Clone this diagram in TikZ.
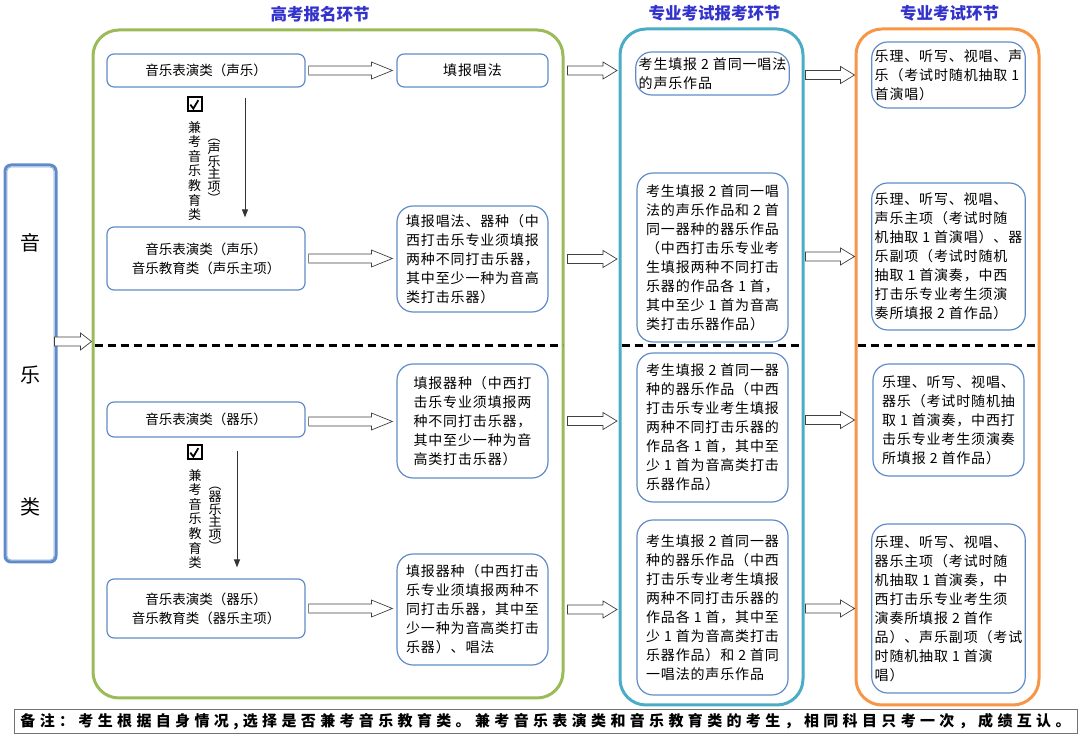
\documentclass[tikz,border=0pt]{standalone}
\usepackage{fontspec}
\setmainfont{Noto Sans CJK SC}
\newfontfamily\boxfont[LetterSpace=6]{Noto Sans CJK SC}
\newfontfamily\remarkfont[LetterSpace=29]{Noto Sans CJK SC}
\usetikzlibrary{arrows.meta,positioning,calc}

\definecolor{stageGreen}{RGB}{155,187,89}
\definecolor{stageTeal}{RGB}{75,172,198}
\definecolor{stageOrange}{RGB}{247,150,70}
\definecolor{boxBlue}{RGB}{95,140,200}
\definecolor{headBlue}{RGB}{51,51,204}

\tikzset{
  stage/.style={draw=#1, line width=3pt, rounded corners=26pt, inner sep=0pt},
  stagehead/.style={font=\bfseries\fontsize{16.5}{18}\selectfont, text=headBlue, inner sep=0pt},
  kind/.style={draw=boxBlue, line width=1.2pt, rounded corners=7pt, minimum width=198pt,
    align=center, font=\fontsize{13.5}{19}\selectfont, inner sep=2pt},
  info/.style={draw=boxBlue, line width=1.2pt, rounded corners=16pt, minimum width=151pt,
    align=left, font=\boxfont\fontsize{14}{19}\selectfont, inner sep=3pt},
  vtext/.style={align=center, font=\fontsize{13}{14.6}\selectfont, inner sep=0pt},
  checkbox/.style={draw, line width=1.8pt, minimum size=13.5pt, inner sep=0pt},
  downarrow/.style={-{Triangle[length=8pt,width=6pt]}, line width=1pt, draw=black!80},
  splitline/.style={line width=2.2pt, dash pattern=on 8pt off 5pt},
  fatarrow/.style={draw=black!75, fill=white, line width=0.7pt,
    to path={let \p1=(\tikztostart), \p2=(\tikztotarget) in
      (\x1,\y1+4.5pt) -- (\x2-#1,\y1+4.5pt) -- (\x2-#1,\y1+8.5pt) -- (\x2,\y1)
      -- (\x2-#1,\y1-8.5pt) -- (\x2-#1,\y1-4.5pt) -- (\x1,\y1-4.5pt) -- cycle}},
  fatarrow/.default=14pt
}

\begin{document}
\begin{tikzpicture}[x=1pt,y=1pt]
\useasboundingbox (0,0) rectangle (1080,744);

% the three stages
\node[stage=stageGreen, minimum width=470pt, minimum height=668pt] (green) at (328,380) {};
\node[stage=stageTeal, minimum width=183pt, minimum height=676pt] (teal) at (711.5,377) {};
\node[stage=stageOrange, minimum width=183pt, minimum height=676pt] (orange) at (947.5,377) {};
\node[stagehead, above=6pt of green.north, xshift=-8pt] {高考报名环节};
\node[stagehead, above=6pt of teal.north, xshift=3pt] {专业考试报考环节};
\node[stagehead, above=6pt of orange.north, xshift=2pt] {专业考试环节};

% music box on the left
\node[draw=boxBlue, line width=3pt, rounded corners=6pt, minimum width=51pt, minimum height=397pt] (music) at (30.5,380.5) {};
\draw[boxBlue!70, line width=0.8pt, rounded corners=4pt]
  ([shift={(3.5pt,3.5pt)}]music.south west) rectangle ([shift={(-3.5pt,-3.5pt)}]music.north east);
\node[align=center, font=\fontsize{20}{132}\selectfont] at ([yshift=-11pt]music.center) {音\\乐\\类};

% 高考报名
\node[kind, minimum height=33pt] (a1) at (206,673.5) {音乐表演类（声乐）};
\node[info, minimum height=33pt, rounded corners=7pt, align=center] (b1) at (472.5,673.5) {填报唱法};
\node[kind, minimum height=63pt] (a2) at (206,485.5) {音乐表演类（声乐）\\音乐教育类（声乐主项）};
\node[info, minimum height=106pt] (b2) at (472.5,485) {填报唱法、器种（中\\西打击乐专业须填报\\两种不同打击乐器，\\其中至少一种为音高\\类打击乐器）};
\node[kind, minimum height=35pt] (a3) at (206,324.5) {音乐表演类（器乐）};
\node[info, minimum height=114pt] (b3) at (472.5,323) {填报器种（中西打\\击乐专业须填报两\\种不同打击乐器，\\其中至少一种为音\\高类打击乐器）};
\node[kind, minimum height=59pt] (a4) at (206,135.5) {音乐表演类（器乐）\\音乐教育类（器乐主项）};
\node[info, minimum height=111pt] (b4) at (472.5,134.5) {填报器种（中西打击\\乐专业须填报两种不\\同打击乐器，其中至\\少一种为音高类打击\\乐器）、唱法};

% 兼考 marks
\node[checkbox] (tick1) at (195,640) {};
\draw[line width=1.8pt] ([shift={(3pt,7pt)}]tick1.south west) -- ([shift={(6pt,3pt)}]tick1.south west) -- ([shift={(11pt,11.5pt)}]tick1.south west);
\node[vtext] (edu1) at (194.5,573) {兼\\考\\音\\乐\\教\\育\\类};
\node[vtext, font=\fontsize{13}{12.5}\selectfont] (main1) at (214,572.5) {︵\\声\\乐\\主\\项\\︶};
\node[checkbox] (tick2) at (195,292) {};
\draw[line width=1.8pt] ([shift={(3pt,7pt)}]tick2.south west) -- ([shift={(6pt,3pt)}]tick2.south west) -- ([shift={(11pt,11.5pt)}]tick2.south west);
\node[vtext] (edu2) at (195,225) {兼\\考\\音\\乐\\教\\育\\类};
\node[vtext, font=\fontsize{13}{12.5}\selectfont] (main2) at (215,224.5) {︵\\器\\乐\\主\\项\\︶};
\draw[downarrow] ([xshift=39pt,yshift=-10pt]a1.south) -- ([xshift=39pt,yshift=9pt]a2.north);
\draw[downarrow] ([xshift=31pt,yshift=-13pt]a3.south) -- ([xshift=31pt,yshift=11pt]a4.north);

% 专业考试报考
\node[info, minimum height=43pt] (c1) at (712.5,670.5) {考生填报 2 首同一唱法\\的声乐作品};
\node[info, minimum height=169pt] (c2) at (712.5,486.5) {考生填报 2 首同一唱\\法的声乐作品和 2 首\\同一器种的器乐作品\\（中西打击乐专业考\\生填报两种不同打击\\乐器的作品各 1 首，\\其中至少 1 首为音高\\类打击乐器作品）};
\node[info, minimum height=149pt] (c3) at (712.5,316.5) {考生填报 2 首同一器\\种的器乐作品（中西\\打击乐专业考生填报\\两种不同打击乐器的\\作品各 1 首，其中至\\少 1 首为音高类打击\\乐器作品）};
\node[info, minimum height=175pt] (c4) at (712.5,136.5) {考生填报 2 首同一器\\种的器乐作品（中西\\打击乐专业考生填报\\两种不同打击乐器的\\作品各 1 首，其中至\\少 1 首为音高类打击\\乐器作品）和 2 首同\\一唱法的声乐作品};

% 专业考试
\node[info, minimum height=66pt] (d1) at (948.5,669) {乐理、听写、视唱、声\\乐（考试时随机抽取 1\\首演唱）};
\node[info, minimum height=147pt] (d2) at (948.5,487.5) {乐理、听写、视唱、\\声乐主项（考试时随\\机抽取 1 首演唱）、器\\乐副项（考试时随机\\抽取 1 首演奏，中西\\打击乐专业考生须演\\奏所填报 2 首作品）};
\node[info, minimum height=112pt] (d3) at (948.5,324) {乐理、听写、视唱、\\器乐（考试时随机抽\\取 1 首演奏，中西打\\击乐专业考生须演奏\\所填报 2 首作品）};
\node[info, minimum height=169pt] (d4) at (948.5,135.5) {乐理、听写、视唱、\\器乐主项（考试时随\\机抽取 1 首演奏，中\\西打击乐专业考生须\\演奏所填报 2 首作\\品）、声乐副项（考试\\时随机抽取 1 首演\\唱）};

% split between 声乐 and 器乐
\coordinate (split) at (0,398.5);
\draw[splitline] ([xshift=3pt]green.west |- split) -- ([xshift=-2pt]green.east |- split);
\draw[splitline] ([xshift=3pt]teal.west |- split) -- ([xshift=-2pt]teal.east |- split);
\draw[splitline] ([xshift=3pt]orange.west |- split) -- ([xshift=-2pt]orange.east |- split);

% block arrows
\draw[fatarrow=11pt] ([xshift=-3pt,yshift=22pt]music.east) to (green.west);
\foreach \k in {1,2,4} {
  \draw[fatarrow=21pt] ([xshift=3pt]a\k.east) to ([xshift=-4pt]b\k.west);
}
\draw[fatarrow=21pt] ([xshift=3pt,yshift=-2pt]a3.east) to ([xshift=-4pt]b3.west);
\foreach \k in {1,2,3,4} {
  \draw[fatarrow] ([xshift=3pt]green.east |- b\k.east) to ([xshift=-1.5pt]teal.west |- b\k.east);
  \draw[fatarrow] ([xshift=1pt]teal.east |- d\k.west) to (orange.west |- d\k.west);
}

% remark
\node[draw=black!55, line width=1pt, minimum width=1063pt, minimum height=24pt, inner sep=0pt,
  font=\remarkfont\bfseries\fontsize{15}{15}\selectfont] (remark) at (545.5,22)
  {备注：考生根据自身情况,选择是否兼考音乐教育类。兼考音乐表演类和音乐教育类的考生，相同科目只考一次，成绩互认。};
\end{tikzpicture}
\end{document}
